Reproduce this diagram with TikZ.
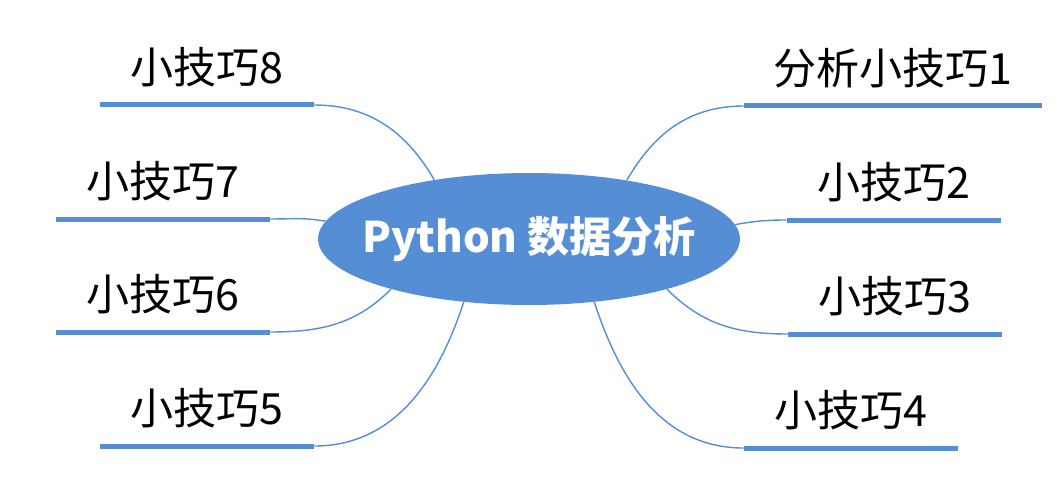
\documentclass[tikz,border=0pt]{standalone}
\usepackage{fontspec}
\setmainfont{Noto Sans CJK SC}
\usetikzlibrary{shapes.geometric}
\definecolor{mapblue}{RGB}{85,142,213}

\begin{document}
\begin{tikzpicture}[x=0.02cm,y=0.02cm,
                root/.style={ellipse,fill=mapblue,inner sep=0pt,minimum width=8.44cm,minimum height=2.64cm},
                title/.style={text=white,inner sep=0pt,font=\bfseries\fontsize{24}{24}\selectfont},
                branch/.style={anchor=south,inner sep=0pt,text depth=0.42cm,minimum width=#1,font=\fontsize{24.5}{24.5}\selectfont},
                bar/.style={draw=mapblue,line width=0.1cm},
                link/.style={draw=mapblue,line width=0.8pt}]
                \useasboundingbox (0,0) rectangle (1061,501);

                \node[root] (PDA) at (529,262){};
                \node[title] (PDAtext) at (PDA){Python 数据分析};

                \node[branch=5.96cm] (T1) at (893,395){分析小技巧1};
                \node[branch=4.28cm] (T2) at (894,281){小技巧2};
                \node[branch=4.28cm] (T3) at (895,167){小技巧3};
                \node[branch=4.28cm] (T4) at (851,53){小技巧4};
                \node[branch=4.28cm] (T5) at (207,55){小技巧5};
                \node[branch=4.28cm] (T6) at (163,169){小技巧6};
                \node[branch=4.28cm] (T7) at (163,282){小技巧7};
                \node[branch=4.28cm] (T8) at (207,396){小技巧8};

                \draw[bar] (T1.south west) -- (T1.south east);
                \draw[bar] (T2.south west) -- (T2.south east);
                \draw[bar] (T3.south west) -- (T3.south east);
                \draw[bar] (T4.south west) -- (T4.south east);
                \draw[bar] (T5.south west) -- (T5.south east);
                \draw[bar] (T6.south west) -- (T6.south east);
                \draw[bar] (T7.south west) -- (T7.south east);
                \draw[bar] (T8.south west) -- (T8.south east);

                \draw[link] (PDA.31) to[out=60,in=180] (T1.south west);
                \draw[link] (PDA.4) to[out=10,in=180] (T2.south west);
                \draw[link] (PDA.-20) to[out=-45,in=180] (T3.south west);
                \draw[link] (PDA.-44) to[out=-72,in=180] (T4.south west);
                \draw[link] (PDA.224) to[out=252,in=0] (T5.south east);
                \draw[link] (PDA.200) to[out=225,in=0] (T6.south east);
                \draw[link] (PDA.175) to[out=170,in=0] (T7.south east);
                \draw[link] (PDA.148) to[out=120,in=0] (T8.south east);
        \end{tikzpicture}
\end{document}
